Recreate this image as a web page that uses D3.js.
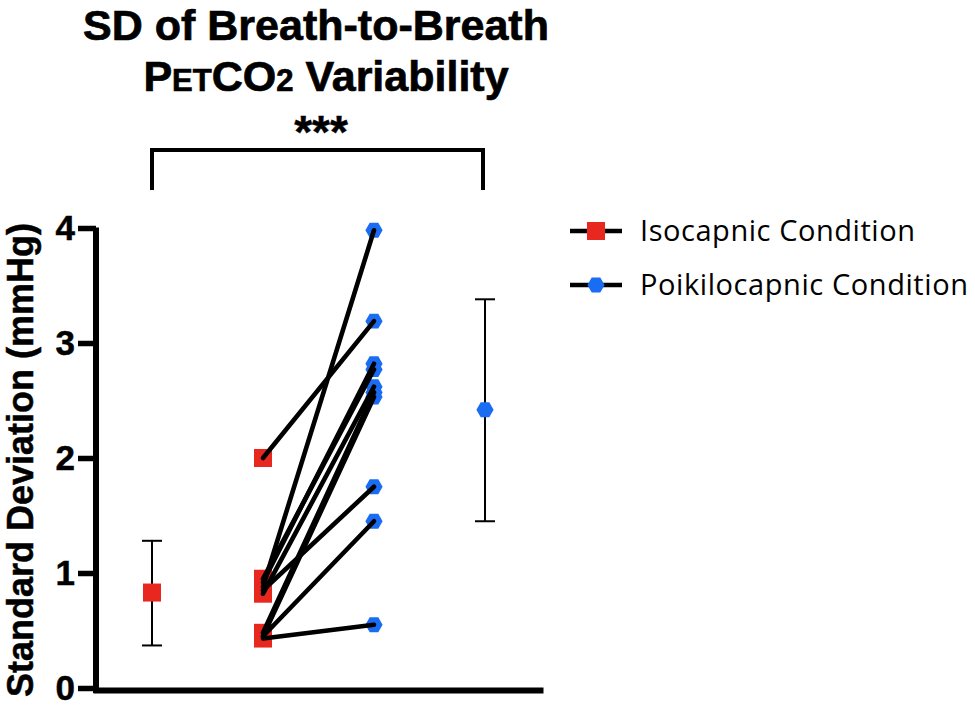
<!DOCTYPE html>
<html>
<head>
<meta charset="utf-8">
<script src="https://cdn.jsdelivr.net/npm/d3@7"></script>
<style>
  html, body { margin: 0; padding: 0; background: #fff; }
  svg { display: block; }
</style>
</head>
<body>
<svg id="chart" width="975" height="711"></svg>
<script>
// ---------- data ----------
const categories = ["Isocapnic mean", "Isocapnic", "Poikilocapnic", "Poikilocapnic mean"];
const isocapnic     = [2.00, 0.88, 0.85, 0.92, 0.95, 0.82, 0.48, 0.45, 0.45, 0.43];
const poikilocapnic = [3.19, 3.98, 1.75, 2.82, 2.77, 2.62, 2.57, 2.53, 1.45, 0.55];
const isoSummary  = { mean: 0.83, low: 0.37, high: 1.28 };
const poikSummary = { mean: 2.42, low: 1.45, high: 3.38 };
const yTicks = [0, 1, 2, 3, 4];
const legendLabels = ["Isocapnic Condition", "Poikilocapnic Condition"];
const significance = "***";

// ---------- setup ----------
const RED = "#e8271f", BLUE = "#1a6cf2";
const svg = d3.select("#chart");
const y = d3.scaleLinear().domain([0, 4]).range([688, 228]);
const x = d3.scalePoint().domain(categories).range([152, 485]);
const xAxisScale = d3.scaleLinear().domain([0, 1]).range([93, 543]);

function hexPath(cx, cy, r) {
  const pts = d3.range(6).map(i => [cx + r * Math.cos(i * Math.PI / 3), cy + r * Math.sin(i * Math.PI / 3)]);
  return d3.line()(pts) + "Z";
}
const SQ = 18, HEX = 8.6;

// ---------- title ----------
const title = svg.append("g").attr("font-family", "'Liberation Sans', Arial, sans-serif")
  .attr("font-weight", "bold").attr("fill", "#000").attr("text-anchor", "middle")
  .attr("stroke", "#000").attr("stroke-width", 0.7);
title.append("text").attr("x", 316).attr("y", 40).attr("font-size", 43).text("SD of Breath-to-Breath");
const t2 = title.append("text").attr("x", 326).attr("y", 91).attr("font-size", 43);
t2.append("tspan").text("P");
t2.append("tspan").attr("font-size", 31).text("ET");
t2.append("tspan").text("CO");
t2.append("tspan").attr("font-size", 31).text("2");
t2.append("tspan").text(" Variability");
title.append("text").attr("x", 321).attr("y", 148).attr("font-size", 46).attr("stroke-width", 0.4).text(significance);

// significance bracket
svg.append("path")
  .attr("d", `M${x(categories[0])},190V150H${x(categories[3]) - 2}V190`)
  .attr("fill", "none").attr("stroke", "#000").attr("stroke-width", 4);

// ---------- axes ----------
const yAxis = svg.append("g").attr("transform", "translate(96,0)")
  .call(d3.axisLeft(y).tickValues(yTicks).tickFormat(d3.format("d")).tickSize(18).tickSizeOuter(0).tickPadding(3));
yAxis.select(".domain").attr("stroke-width", 6).attr("d", `M0,${y(4) - 0.5}V${y(0) + 5}`);
yAxis.selectAll(".tick line").attr("stroke-width", 5.5);
yAxis.selectAll(".tick text").attr("font-family", "'Liberation Sans', Arial, sans-serif")
  .attr("font-weight", "bold").attr("font-size", 35).attr("fill", "#000").attr("dy", "0.34em")
  .attr("stroke", "#000").attr("stroke-width", 0.5);

const xAxis = svg.append("g").attr("transform", `translate(0,${y(0) + 2})`)
  .call(d3.axisBottom(xAxisScale).tickValues([]).tickSizeOuter(0));
xAxis.select(".domain").attr("stroke-width", 6);

svg.append("text")
  .attr("transform", `translate(33,${(y(0) + y(4)) / 2 + 2}) rotate(-90)`)
  .attr("text-anchor", "middle")
  .attr("font-family", "'Liberation Sans', Arial, sans-serif")
  .attr("font-weight", "bold").attr("font-size", 36)
  .attr("stroke", "#000").attr("stroke-width", 0.5)
  .text("Standard Deviation (mmHg)");

// ---------- summary (mean ± SD) ----------
const summaries = [
  { cat: categories[0], s: isoSummary, kind: "sq" },
  { cat: categories[3], s: poikSummary, kind: "hex" }
];
summaries.forEach(d => {
  const cx = x(d.cat);
  const g = svg.append("g").attr("stroke", "#000").attr("stroke-width", 2);
  g.append("line").attr("x1", cx).attr("x2", cx).attr("y1", y(d.s.low)).attr("y2", y(d.s.high));
  g.append("line").attr("x1", cx - 10).attr("x2", cx + 10).attr("y1", y(d.s.low)).attr("y2", y(d.s.low));
  g.append("line").attr("x1", cx - 10).attr("x2", cx + 10).attr("y1", y(d.s.high)).attr("y2", y(d.s.high));
  if (d.kind === "sq") {
    svg.append("rect").attr("x", cx - SQ / 2).attr("y", y(d.s.mean) - SQ / 2)
      .attr("width", SQ).attr("height", SQ).attr("fill", RED);
  } else {
    svg.append("path").attr("d", hexPath(cx, y(d.s.mean), HEX)).attr("fill", BLUE);
  }
});

// ---------- paired individual data ----------
const pairs = isocapnic.map((v, i) => ({ iso: v, poik: poikilocapnic[i] }));
svg.append("g").selectAll("rect").data(pairs).join("rect")
  .attr("x", x(categories[1]) - SQ / 2).attr("y", d => y(d.iso) - SQ / 2)
  .attr("width", SQ).attr("height", SQ).attr("fill", RED);
svg.append("g").selectAll("path").data(pairs).join("path")
  .attr("d", d => hexPath(x(categories[2]), y(d.poik), HEX)).attr("fill", BLUE);
svg.append("g").selectAll("line").data(pairs).join("line")
  .attr("x1", x(categories[1])).attr("y1", d => y(d.iso))
  .attr("x2", x(categories[2])).attr("y2", d => y(d.poik))
  .attr("stroke", "#000").attr("stroke-width", 4.6).attr("stroke-linecap", "round");

// ---------- legend ----------
const legendWidths = [275, 328];
const legend = svg.append("g").attr("font-family", "'Open Sans', Lato, sans-serif").attr("font-size", 29);
legendLabels.forEach((lab, i) => {
  const ly = 231 + i * 54;
  const g = legend.append("g").attr("transform", `translate(0,${ly})`);
  g.append("line").attr("x1", 570).attr("x2", 622).attr("y1", 0).attr("y2", 0)
    .attr("stroke", "#000").attr("stroke-width", 4.5);
  if (i === 0) {
    g.append("rect").attr("x", 596 - SQ / 2).attr("y", -SQ / 2).attr("width", SQ).attr("height", SQ).attr("fill", RED);
  } else {
    g.append("path").attr("d", hexPath(596, 0, HEX)).attr("fill", BLUE);
  }
  g.append("text").attr("x", 640).attr("y", 9.5).attr("fill", "#000")
    .attr("textLength", legendWidths[i]).attr("lengthAdjust", "spacing").text(lab);
});
</script>
</body>
</html>
